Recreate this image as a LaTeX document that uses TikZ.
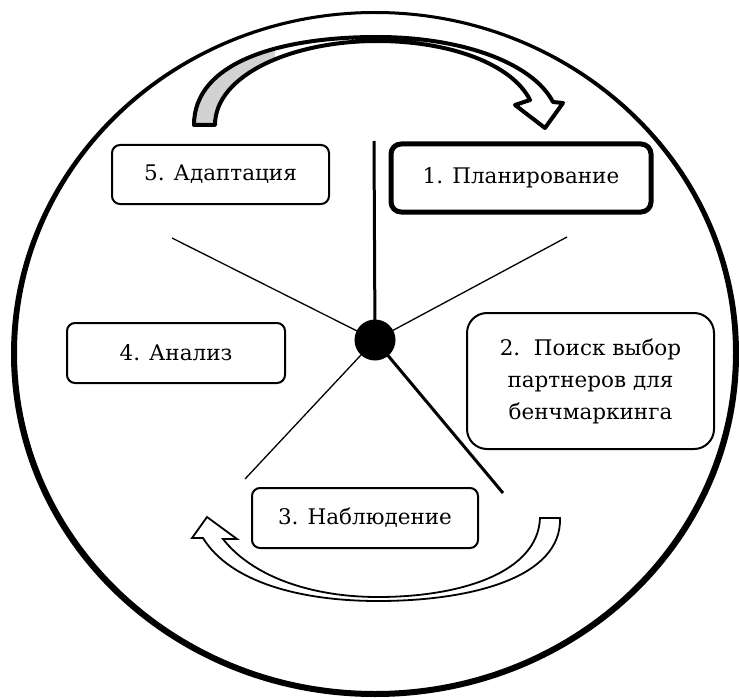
\documentclass[tikz,border=0pt]{standalone}
\usepackage{fontspec}
\setmainfont{DejaVu Serif}
\begin{document}
\begin{tikzpicture}[x=1pt,y=-1pt,
  box/.style={draw, line width=2pt, rounded corners=8pt, inner sep=0pt, align=center,
    font=\fontsize{21.5}{32}\selectfont},
  thinray/.style={line width=1.3pt},
  thickray/.style={line width=3pt},
  toparrow/.style={line width=4pt, line join=round},
  botarrow/.style={line width=1.8pt, line join=miter, fill=white}]
\useasboundingbox (0,0) rectangle (739,698);
% outer ring
\fill[even odd rule] (375,354) ellipse [x radius=364pt, y radius=343pt]
                     (375,352.5) ellipse [x radius=358pt, y radius=338.5pt];
% top arrow
\def\toparrowpath{(194,125) .. controls (194,62) and (280,37) .. (377,37)
   .. controls (460,37) and (532,62) .. (553,102) -- (563,103) -- (545,128) -- (515,105) -- (530,100)
   .. controls (512,64) and (450,41) .. (377,41) .. controls (292,41) and (215,75) .. (215,125) -- cycle}
\fill[white] \toparrowpath;
\begin{scope}
  \clip \toparrowpath;
  \fill[gray!35] (150,0) rectangle (275,140);
\end{scope}
\draw[toparrow] \toparrowpath;
% bottom arrow
\draw[botarrow] (560,518) .. controls (562,578) and (470,601) .. (378,601)
   .. controls (300,601) and (230,582) .. (203,538) -- (192,538) -- (207,517) -- (237,539) -- (223,539)
   .. controls (252,576) and (310,597) .. (378,597) .. controls (462,597) and (538,572) .. (540,518) -- cycle;
% rays
\coordinate (c) at (375,340);
\coordinate (rtop) at (374,141);
\coordinate (rul) at (172,238);
\coordinate (rur) at (567,237);
\coordinate (rll) at (245,479);
\coordinate (rlr) at (503,493);
\draw[thickray] (c) -- (rtop);
\draw[thickray] (c) -- (rlr);
\draw[thinray] (c) -- (rul);
\draw[thinray] (c) -- (rur);
\draw[thinray] (c) -- (rll);
\fill (c) circle [radius=20.5pt];
% boxes
\node[box, minimum width=217pt, minimum height=59pt] (b5) at (220.5,174.5) {5. Адаптация};
\node[box, line width=5pt, rounded corners=10pt, minimum width=260pt, minimum height=68pt] (b1) at (521,178) {1. Планирование};
\node[box, minimum width=218pt, minimum height=60pt] (b4) at (176,353) {4. Анализ};
\node[box, rounded corners=20pt, minimum width=247pt, minimum height=136pt] (b2) at (590.5,381) {2.\ \ Поиск выбор\\партнеров для\\бенчмаркинга};
\node[box, minimum width=226pt, minimum height=60pt] (b3) at (365,518) {3. Наблюдение};
\end{tikzpicture}
\end{document}
